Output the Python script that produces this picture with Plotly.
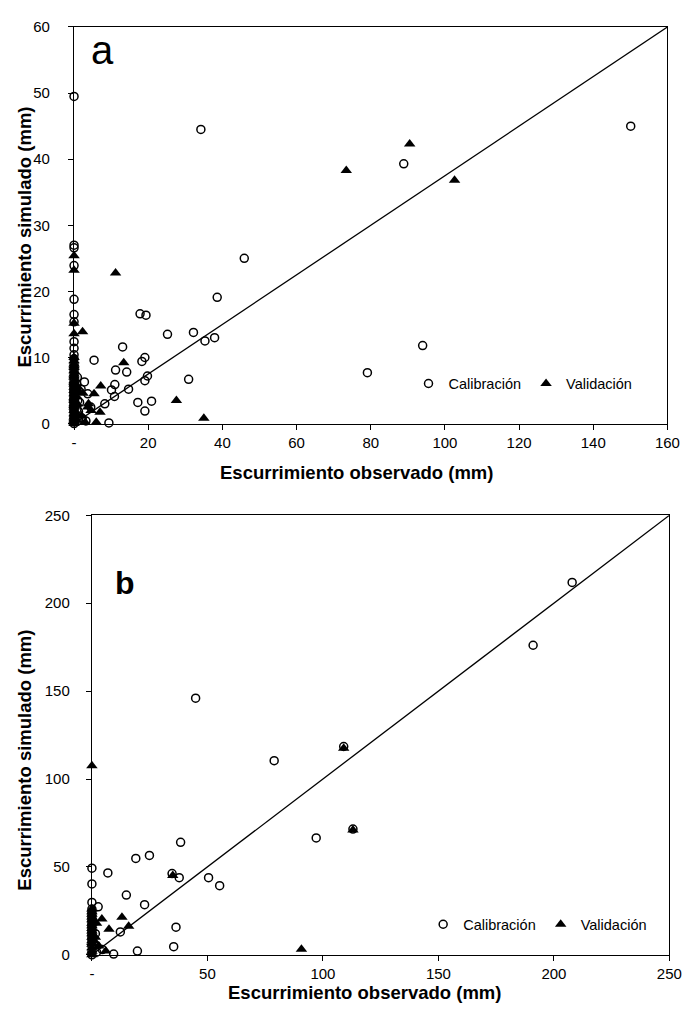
import plotly.graph_objects as go

# ---------------- Panel a data ----------------
a_cal_x = [0, 34.2, 45.9, 0, 0, 0, 0, 0, 0, 0, 0, 0, 0, 0, 0, 0, 0, 0, 0, 0, 0, 0, 0, 0, 0, 0, 0, 0, 0, 0,
           38.6, 17.8, 19.4, 25.2, 32.2, 35.3, 37.9, 13.1, 5.4, 19.1, 18.3, 11.2, 14.2, 19.8, 19.1, 30.9,
           11.0, 14.7, 10.1, 10.9, 8.3, 17.2, 20.9, 19.1, 9.4, 2.8, 1.9, 3.7, 1.5, 1.2, 4.5, 2.2, 3.2,
           150.1, 88.9, 94.0, 79.1,
           0, 0, 0, 0, 0, 0, 0, 0, 0, 0, 0, 0, 0.6, 0.8, 1.0, 0.5, 0.7, 1.2, 0.9]
a_cal_y = [49.5, 44.5, 25.0, 27.0, 26.6, 23.9, 18.8, 16.5, 15.4, 12.4, 11.4, 10.4, 9.8, 9.0, 8.5, 8.0,
           7.5, 7.0, 6.5, 6.0, 5.5, 5.0, 4.5, 4.0, 3.5, 3.0, 2.5, 2.0, 1.0, 0.0,
           19.1, 16.6, 16.4, 13.5, 13.8, 12.5, 13.0, 11.6, 9.6, 10.0, 9.4, 8.1, 7.8, 7.2, 6.5, 6.7,
           5.9, 5.2, 5.1, 4.1, 3.0, 3.2, 3.4, 1.9, 0.1, 6.3, 5.2, 4.5, 3.2, 1.8, 2.5, 0.8, 0.4,
           45.0, 39.3, 11.8, 7.7,
           0.25, 0.75, 1.25, 1.75, 2.25, 2.75, 3.25, 3.75, 4.25, 4.75, 5.25, 5.75, 1.0, 2.2, 3.5, 4.8, 6.0, 0.5, 7.0]
a_val_x = [0, 0, 11.2, 0, 2.3, 0, 13.4, 7.2, 27.6, 35.0, 5.4, 7.0, 3.0, 6.0, 3.9, 2.4, 1.5, 3.7, 0.8,
           0, 0, 0, 0, 0, 0, 0, 0, 0, 0, 0, 0, 0, 0, 0, 0, 0, 0, 0, 0, 90.5, 102.6, 73.4, 4.6, 2.0,
           0, 0, 0, 0, 0, 0, 0, 0, 0.6, 0.9, 0.5, 1.1]
a_val_y = [25.4, 23.2, 22.8, 15.2, 13.9, 13.6, 9.2, 5.7, 3.5, 0.8, 4.5, 1.7, 0.2, 0.2, 3.0, 4.6, 4.7, 2.5, 0.5,
           10.0, 9.5, 9.0, 8.5, 8.0, 7.5, 7.0, 6.5, 6.0, 5.5, 5.0, 4.5, 4.0, 3.5, 3.0, 2.5, 2.0, 1.0, 0.5, 0.0,
           42.3, 36.8, 38.3, 2.0, 1.2,
           0.25, 0.75, 1.5, 2.75, 3.75, 6.25, 7.25, 8.75, 1.5, 3.0, 4.2, 5.5]
a_line_x = [0, 160]
a_line_y = [0, 60]
a_xticks = [0, 20, 40, 60, 80, 100, 120, 140, 160]
a_xtext = ["-", "20", "40", "60", "80", "100", "120", "140", "160"]
a_yticks = [0, 10, 20, 30, 40, 50, 60]

# ---------------- Panel b data ----------------
b_cal_x = [78.9, 97.1, 38.4, 24.9, 19.0, 6.9, 0, 0, 37.8, 34.7, 50.5, 55.3, 14.9, 22.8, 2.7, 0, 12.3,
           36.4, 35.4, 19.7, 9.4, 44.9, 207.9, 191.0, 109.0, 113.0, 0, 0, 0, 0, 0, 0, 0, 0, 0, 0, 4.5, 2.0,
           0, 0, 0, 0, 0, 0, 1.0, 1.5]
b_cal_y = [110.4, 66.5, 64.0, 56.5, 54.8, 46.6, 49.3, 40.3, 43.9, 46.2, 43.9, 39.3, 34.0, 28.5, 27.3, 29.8,
           13.0, 15.7, 4.6, 2.1, 0.4, 146.0, 211.8, 176.1, 118.5, 71.5, 26.0, 23.0, 20.0, 17.0, 14.0, 11.0,
           8.0, 5.0, 2.0, 0.0, 3.0, 1.5,
           24.5, 21.5, 18.5, 15.5, 12.5, 9.5, 6.0, 12.0]
b_val_x = [0, 35.0, 13.0, 15.9, 7.4, 4.3, 90.7, 6.0, 109.0, 113.0, 0, 0, 0, 0, 0, 0, 0, 0, 0, 0, 0,
           2.0, 1.5, 3.0, 0, 0, 0, 0, 0, 0, 1.0]
b_val_y = [107.5, 45.1, 21.4, 16.2, 14.5, 20.4, 3.1, 2.1, 117.5, 71.0, 26.0, 23.0, 20.0, 18.0, 15.0,
           12.0, 10.0, 8.0, 6.0, 4.0, 0.0, 18.0, 10.0, 5.0, 24.5, 21.5, 16.5, 13.5, 7.0, 2.0, 8.0]
b_line_x = [0, 250]
b_line_y = [0, 250]
b_xticks = [0, 50, 100, 150, 200, 250]
b_xtext = ["-", "50", "100", "150", "200", "250"]
b_yticks = [0, 50, 100, 150, 200, 250]

x_title = "Escurrimiento observado (mm)"
y_title = "Escurrimiento simulado (mm)"

W, H = 699, 1010
FONT = "Liberation Sans, Arial, sans-serif"


def px_x(p):
    return p / W


def px_y(p):
    return 1 - p / H


circle = dict(symbol="circle-open", size=8, color="black", line=dict(width=1.5, color="black"))
tri = dict(symbol="triangle-up", size=10, color="black", line=dict(width=0))

fig = go.Figure()

# panel a
fig.add_trace(go.Scatter(x=a_line_x, y=a_line_y, mode="lines", line=dict(color="black", width=1.3),
                         showlegend=False, xaxis="x", yaxis="y", hoverinfo="skip"))
fig.add_trace(go.Scatter(x=a_cal_x, y=a_cal_y, mode="markers", name="Calibración", marker=circle,
                         cliponaxis=False, xaxis="x", yaxis="y", legend="legend"))
fig.add_trace(go.Scatter(x=a_val_x, y=a_val_y, mode="markers", name="Validación", marker=tri,
                         cliponaxis=False, xaxis="x", yaxis="y", legend="legend"))
# panel b
fig.add_trace(go.Scatter(x=b_line_x, y=b_line_y, mode="lines", line=dict(color="black", width=1.3),
                         showlegend=False, xaxis="x2", yaxis="y2", hoverinfo="skip"))
fig.add_trace(go.Scatter(x=b_cal_x, y=b_cal_y, mode="markers", name="Calibración", marker=circle,
                         cliponaxis=False, xaxis="x2", yaxis="y2", legend="legend2"))
fig.add_trace(go.Scatter(x=b_val_x, y=b_val_y, mode="markers", name="Validación", marker=tri,
                         cliponaxis=False, xaxis="x2", yaxis="y2", legend="legend2"))

axis_common = dict(showgrid=False, zeroline=False, showline=True, linecolor="black", linewidth=1.2,
                   mirror=True, ticks="outside", ticklen=5, tickcolor="black", tickwidth=1,
                   tickfont=dict(family=FONT, size=15, color="black"))
title_font = dict(family=FONT, size=18.5, color="black", weight="bold")


def title_ann(text, x, y, angle=0):
    return dict(text=text, x=px_x(x), y=px_y(y), xref="paper", yref="paper", xanchor="center",
                yanchor="middle", showarrow=False, textangle=angle, font=title_font, borderpad=0)


fig.update_layout(
    width=W, height=H, margin=dict(l=0, r=0, t=0, b=0),
    paper_bgcolor="white", plot_bgcolor="white",
    xaxis=dict(domain=[px_x(72.7), px_x(680)], anchor="y", range=[0, 160], tickvals=a_xticks,
               ticktext=a_xtext, **axis_common),
    yaxis=dict(domain=[px_y(421.7), px_y(18.3)], anchor="x", range=[0, 60], tickvals=a_yticks,
               ticklabelstandoff=15, **axis_common),
    xaxis2=dict(domain=[px_x(91), px_x(682)], anchor="y2", range=[0, 250], tickvals=b_xticks,
                ticktext=b_xtext, **axis_common),
    yaxis2=dict(domain=[px_y(962), px_y(515)], anchor="x2", range=[0, 250], tickvals=b_yticks,
                ticklabelstandoff=13, **axis_common),
    legend=dict(orientation="h", x=px_x(415), y=px_y(381), xanchor="left", yanchor="middle",
                font=dict(family=FONT, size=14.5, color="black"), bgcolor="rgba(0,0,0,0)",
                itemwidth=30, tracegroupgap=0),
    legend2=dict(orientation="h", x=px_x(430), y=px_y(931), xanchor="left", yanchor="middle",
                 font=dict(family=FONT, size=14.5, color="black"), bgcolor="rgba(0,0,0,0)",
                 itemwidth=30, tracegroupgap=0),
    annotations=[
        dict(text="a", x=px_x(88), y=px_y(42), xref="paper", yref="paper", xanchor="left",
             yanchor="middle", showarrow=False, font=dict(family=FONT, size=40, color="black")),
        dict(text="b", x=px_x(113), y=px_y(584), xref="paper", yref="paper", xanchor="left",
             yanchor="middle", showarrow=False,
             font=dict(family=FONT, size=32, color="black", weight="bold")),
        title_ann(x_title, 362, 471),
        title_ann(y_title, 22, 232, -90),
        title_ann(x_title, 370, 1000),
        title_ann(y_title, 22, 764, -90),
    ],
)

fig.write_html("out.html")
